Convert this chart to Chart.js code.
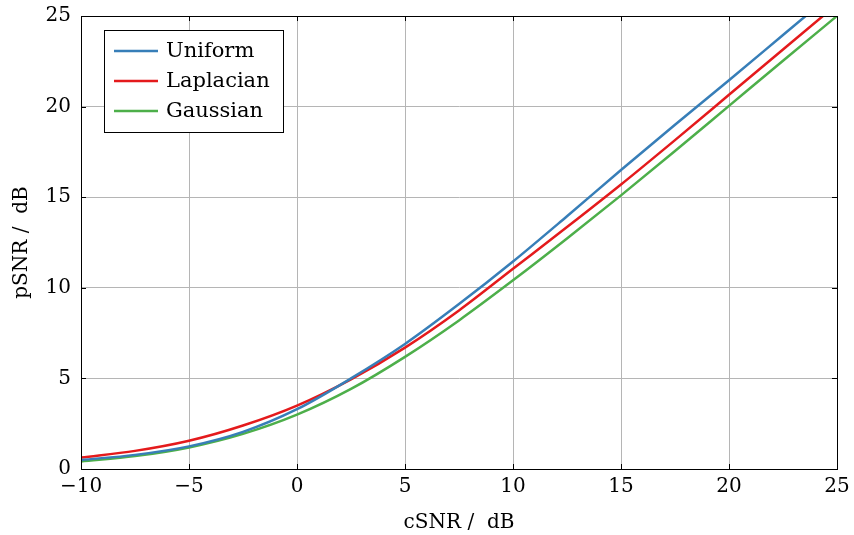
<!DOCTYPE html>
<html>
<head>
<meta charset="utf-8">
<script src="https://cdn.jsdelivr.net/npm/chart.js@4"></script>
<style>
    body { margin: 0; background: #fff; }
    #wrap { width: 854px; height: 535px; }
</style>
</head>
<body>
<div id="wrap"><canvas id="chart"></canvas></div>
<script>
const cSNR = [-10, -7.5, -5, -2.5, 0, 2.5, 5, 7.5, 10, 12.5, 15, 17.5, 20, 22.5, 25];
const uniform = [0.5, 0.78, 1.25, 2.05, 3.3, 5.0, 6.9, 9.1, 11.45, 13.95, 16.5, 19.0, 21.45, 23.95, 26.45];
const laplacian = [0.63, 1.0, 1.56, 2.4, 3.5, 4.95, 6.7, 8.75, 11.05, 13.35, 15.7, 18.15, 20.65, 23.15, 25.65];
const gaussian = [0.41, 0.71, 1.19, 1.94, 3.0, 4.42, 6.19, 8.2, 10.41, 12.72, 15.1, 17.55, 20.04, 22.53, 25.0];

const xTicks = [-10, -5, 0, 5, 10, 15, 20, 25];
const yTicks = [0, 5, 10, 15, 20, 25];

const seriesNames = ['Uniform', 'Laplacian', 'Gaussian'];
const seriesColors = ['#377eb8', '#e41a1c', '#4daf4a'];

const FONT = 'DejaVu Serif';

function toPoints(ys) {
    return cSNR.map((x, i) => ({ x: x, y: ys[i] }));
}

// inward tick marks and the black frame round the plot
const framePlugin = {
    id: 'frame',
    afterDraw(chart) {
        const ctx = chart.ctx;
        const a = chart.chartArea;
        const xs = chart.scales.x;
        const ys = chart.scales.y;
        ctx.save();
        ctx.strokeStyle = '#000';
        ctx.lineWidth = 1;
        ctx.beginPath();
        xTicks.forEach(function (v) {
            const px = Math.round(xs.getPixelForValue(v)) + 0.5;
            ctx.moveTo(px, a.bottom); ctx.lineTo(px, a.bottom - 5);
            ctx.moveTo(px, a.top); ctx.lineTo(px, a.top + 5);
        });
        yTicks.forEach(function (v) {
            const py = Math.round(ys.getPixelForValue(v)) + 0.5;
            ctx.moveTo(a.left, py); ctx.lineTo(a.left + 5, py);
            ctx.moveTo(a.right, py); ctx.lineTo(a.right - 5, py);
        });
        ctx.stroke();
        ctx.strokeRect(Math.round(a.left) + 0.5, Math.round(a.top) + 0.5,
            Math.round(a.right - a.left), Math.round(a.bottom - a.top));
        ctx.restore();
    }
};

// legend box in the top left corner of the plot
const legendPlugin = {
    id: 'boxLegend',
    afterDraw(chart) {
        const ctx = chart.ctx;
        const a = chart.chartArea;
        const bx = a.left + 23, by = a.top + 14, bw = 179, bh = 102;
        ctx.save();
        ctx.fillStyle = '#fff';
        ctx.fillRect(bx, by, bw, bh);
        ctx.strokeStyle = '#000';
        ctx.lineWidth = 1;
        ctx.strokeRect(bx + 0.5, by + 0.5, bw, bh);
        ctx.font = '21px "' + FONT + '"';
        ctx.textBaseline = 'middle';
        chart.data.datasets.forEach(function (ds, i) {
            const ry = by + 21 + i * 30;
            ctx.strokeStyle = ds.borderColor;
            ctx.lineWidth = 2.5;
            ctx.beginPath();
            ctx.moveTo(bx + 10, ry);
            ctx.lineTo(bx + 54, ry);
            ctx.stroke();
            ctx.fillStyle = '#000';
            ctx.fillText(ds.label, bx + 62, ry + 1);
        });
        ctx.restore();
    }
};

new Chart(document.getElementById('chart').getContext('2d'), {
    type: 'line',
    data: {
        datasets: [
            { label: seriesNames[0], data: toPoints(uniform), borderColor: seriesColors[0] },
            { label: seriesNames[1], data: toPoints(laplacian), borderColor: seriesColors[1] },
            { label: seriesNames[2], data: toPoints(gaussian), borderColor: seriesColors[2] },
        ],
    },
    options: {
        responsive: true,
        maintainAspectRatio: false,
        animation: false,
        layout: { padding: { top: 16, right: 17, left: 0, bottom: 0 } },
        elements: {
            line: { borderWidth: 2.5, cubicInterpolationMode: 'monotone', fill: false },
            point: { radius: 0 },
        },
        plugins: {
            legend: { display: false },
            tooltip: { enabled: false },
        },
        scales: {
            x: {
                type: 'linear',
                min: -10,
                max: 25,
                afterBuildTicks: function (scale) {
                    scale.ticks = xTicks.map((v) => ({ value: v }));
                },
                afterFit: function (scale) {
                    scale.height = 66;
                    scale.paddingLeft = 0;
                    scale.paddingRight = 0;
                },
                ticks: {
                    color: '#000',
                    padding: 6,
                    maxRotation: 0,
                    font: { family: FONT, size: 20 },
                    callback: (v) => String(v).replace('-', '\u2212'),
                },
                grid: { color: '#b5b5b5', drawTicks: false },
                border: { display: true, color: '#000' },
                title: {
                    display: true,
                    text: 'cSNR /  dB',
                    color: '#000',
                    font: { family: FONT, size: 20 },
                    padding: { top: 14, bottom: 0 },
                },
            },
            y: {
                type: 'linear',
                min: 0,
                max: 25,
                afterBuildTicks: function (scale) {
                    scale.ticks = yTicks.map((v) => ({ value: v }));
                },
                afterFit: function (scale) {
                    scale.width = 81;
                    scale.paddingTop = 0;
                    scale.paddingBottom = 0;
                },
                ticks: {
                    color: '#000',
                    padding: 10,
                    font: { family: FONT, size: 20 },
                },
                grid: { color: '#b5b5b5', drawTicks: false },
                border: { display: true, color: '#000' },
                title: {
                    display: true,
                    text: 'pSNR /  dB',
                    color: '#000',
                    font: { family: FONT, size: 20 },
                    padding: { top: 10, bottom: 0 },
                },
            },
        },
    },
    plugins: [framePlugin, legendPlugin],
});
</script>
</body>
</html>
